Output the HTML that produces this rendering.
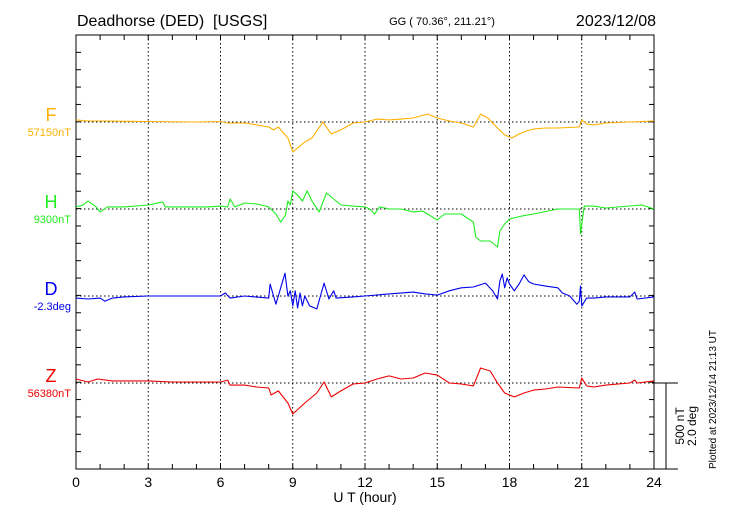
<!DOCTYPE html>
<html><head><meta charset="utf-8"><style>
body{margin:0;background:#fff;}
svg{display:block;font-family:"Liberation Sans",sans-serif;}
</style></head><body>
<svg id="c" width="730" height="520"></svg>
<script>
const hourTicks=[0,3,6,9,12,15,18,21,24];
const fTimes=[0,0.5,1,3,5,6,6.3,7,7.5,8,8.2,8.4,8.8,9.0,9.5,9.8,10.25,10.6,11,11.5,12,12.5,13,13.5,14,14.6,15,15.5,16,16.5,16.8,17.1,17.5,17.8,18.1,18.4,18.7,19,19.5,20,20.9,21,21.2,21.5,22,23,24];
const fValues=[12,6,6,3,0,3,-6,-6,-17,-29,-46,-29,-93,-174,-116,-93,0,-70,-46,-6,0,17,12,17,23,46,23,6,-6,-29,46,23,-35,-75,-93,-70,-52,-41,-35,-35,-29,12,-12,-17,-6,0,6];
const hTimes=[0,0.3,0.5,0.8,1,1.3,2,3,3.6,3.7,4.5,5.5,6,6.3,6.4,6.6,7,7.5,8,8.3,8.5,8.7,8.8,8.9,9,9.2,9.4,9.6,9.8,10.1,10.4,10.7,11,11.5,12,12.2,12.4,12.6,13,13.5,14,14.4,15,15.3,16,16.3,16.5,16.6,16.8,17.2,17.5,17.6,17.8,18,18.5,19,20,20.9,20.95,21.1,21.5,22,23.5,24];
const hValues=[12,23,46,17,-17,12,12,23,41,12,12,12,17,12,58,12,35,29,12,-29,-76,-35,46,23,105,81,46,105,46,-17,93,58,23,17,12,0,-29,12,0,0,-17,-12,-64,-29,-29,-58,-76,-163,-186,-186,-221,-128,-87,-58,-41,-29,0,0,-145,17,17,6,23,0];
const dTimes=[0,0.5,1,1.2,1.5,2,3,4,5,6,6.2,6.4,7,8,8.06,8.3,8.68,8.8,8.9,9.0,9.1,9.2,9.3,9.4,9.5,9.7,10,10.3,10.5,10.7,10.8,11.5,12,13,14,14.5,15,15.5,16,16.5,17,17.3,17.5,17.6,17.7,17.8,17.9,18,18.2,18.4,18.6,18.8,19,19.5,20,20.2,20.5,20.8,20.9,20.95,21.0,21.2,21.5,22,23,23.2,23.3,24];
const dValues=[-0.05,-0.07,-0.05,-0.12,-0.05,-0.02,0,0,0,0,0.07,-0.05,0,-0.05,0.28,-0.19,0.53,0,0.12,-0.23,0.12,-0.28,0.07,-0.23,0,-0.23,-0.30,0.30,-0.07,0.12,-0.05,-0.02,0,0.05,0.09,0.05,0.02,0.12,0.19,0.21,0.30,0.12,-0.07,0.35,0.51,0.19,0.42,0.28,0.12,0.28,0.49,0.33,0.28,0.23,0.19,0.07,0,-0.19,-0.12,0.23,-0.23,-0.05,-0.05,-0.02,-0.02,0.09,-0.07,-0.02];
const zTimes=[0,0.5,0.9,1.5,3,4,5,6,6.3,6.4,7,7.5,8,8.1,8.4,8.8,9,9.5,10,10.3,10.6,11,11.5,12,12.5,13,13.5,14,14.5,15,15.5,16,16.5,16.8,17.2,17.5,17.8,18,18.2,18.4,18.6,19,19.5,20,20.9,21,21.2,21.5,22,23,23.2,23.3,24];
const zValues=[23,6,23,12,12,6,6,6,17,-12,-12,-23,-29,-70,-46,-116,-180,-116,-58,6,-81,-46,-6,0,23,41,23,29,58,46,0,-6,-17,87,70,0,-58,-70,-81,-70,-58,-41,-35,-23,-29,29,-17,-23,-12,0,17,0,12];

const NS="http://www.w3.org/2000/svg";
const svg=document.getElementById('c');
const X0=76,X1=654,Y0=35,Y1=469;
const xs=h=>X0+(X1-X0)*h/24;
const pxPerNT=86/500, pxPerDeg=86/2.0;
function mk(tag,attrs,parent){const e=document.createElementNS(NS,tag);for(const k in attrs)e.setAttribute(k,attrs[k]);(parent||svg).appendChild(e);return e;}
function txt(s,attrs){const e=mk('text',attrs);e.textContent=s;return e;}

const frame=mk('rect',{x:X0,y:Y0,width:X1-X0,height:Y1-Y0,fill:'none',stroke:'#000','stroke-width':1});


for(const h of hourTicks){if(h===0||h===24)continue;
 const g=mk('line',{x1:xs(h),x2:xs(h),y1:Y0,y2:Y1,stroke:'#000','stroke-dasharray':'1.5,2.5','stroke-width':1});
 
 }
for(let h=1;h<24;h++){
 mk('line',{x1:xs(h),x2:xs(h),y1:Y0,y2:Y0+5,stroke:'#000'});
 mk('line',{x1:xs(h),x2:xs(h),y1:Y1,y2:Y1-5,stroke:'#000'});}
const step=17.36;
for(let i=1;i<25;i++){const y=Y0+i*step;
 mk('line',{x1:X0,x2:X0+5,y1:y,y2:y,stroke:'#000'});
 mk('line',{x1:X1,x2:X1-5,y1:y,y2:y,stroke:'#000'});}
for(const h of hourTicks){const t=txt(String(h),{x:xs(h),y:487,'font-size':14,'text-anchor':'middle'});
 
 }
const xt=txt('U T (hour)',{x:365,y:502,'font-size':14,'text-anchor':'middle'});



const series=[
 {n:'f',name:'F',base:122,t:fTimes,v:fValues,s:pxPerNT,c:'#ffb000',lab:'57150nT'},
 {n:'h',name:'H',base:209,t:hTimes,v:hValues,s:pxPerNT,c:'#1eee1e',lab:'9300nT'},
 {n:'d',name:'D',base:296,t:dTimes,v:dValues,s:pxPerDeg,c:'#0000ee',lab:'-2.3deg'},
 {n:'z',name:'Z',base:383,t:zTimes,v:zValues,s:pxPerNT,c:'#ee0000',lab:'56380nT'}];
for(const S of series){
 const bl=mk('line',{x1:X0,x2:X1,y1:S.base,y2:S.base,stroke:'#000','stroke-dasharray':'1.5,2.5'});
 
 
 const d=S.t.map((t,i)=>(i?'L':'M')+xs(t).toFixed(1)+','+(S.base-S.v[i]*S.s).toFixed(1)).join('');
 const p=mk('path',{d:d,fill:'none',stroke:S.c,'stroke-width':1.1,'stroke-linejoin':'round'});
 
 
 const l=txt(S.name,{x:51,y:S.base-1,'font-size':18,fill:S.c,'text-anchor':'middle'});
 
 
 const b=txt(S.lab,{x:71,y:S.base+14,'font-size':11,fill:S.c,'text-anchor':'end'});
 
 
}
mk('line',{x1:X1,x2:678,y1:383,y2:383,stroke:'#000'});
mk('line',{x1:X1,x2:678,y1:Y1,y2:Y1,stroke:'#000'});
const sb=mk('line',{x1:666,x2:666,y1:383,y2:Y1,stroke:'#000'});


const s1=txt('500 nT',{x:0,y:0,'font-size':12,'text-anchor':'middle',transform:'translate(684,426) rotate(-90)'});


const s2=txt('2.0 deg',{x:0,y:0,'font-size':12,'text-anchor':'middle',transform:'translate(696,426) rotate(-90)'});


const pl=txt('Plotted at 2023/12/14 21:13 UT',{x:0,y:0,'font-size':10,'text-anchor':'start',transform:'translate(716,469) rotate(-90)'});


const t1=txt('Deadhorse (DED)\u00a0 [USGS]',{x:77,y:26,'font-size':16});


const t2=txt('GG ( 70.36°, 211.21°)',{x:442,y:25,'font-size':11,'text-anchor':'middle'});


const t3=txt('2023/12/08',{x:656,y:26,'font-size':16,'text-anchor':'end'});


</script>
</body></html>
